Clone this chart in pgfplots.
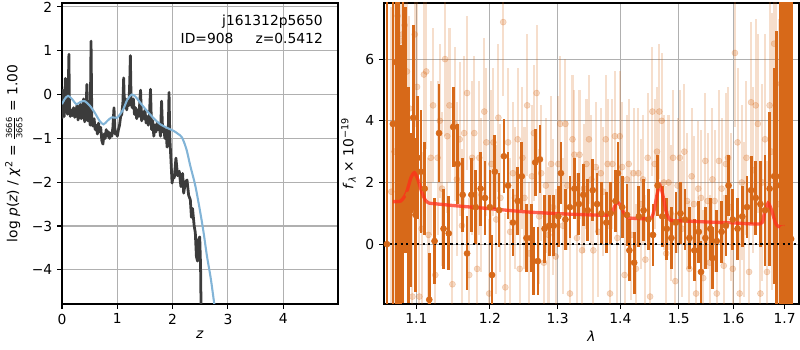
\documentclass[border=0pt]{standalone}
\usepackage{pgfplots}
\pgfplotsset{compat=1.18}
\usepackage{pgfplotstable}
\usepackage{fontspec}
\setmainfont{DejaVu Sans}
\definecolor{gridc}{RGB}{176,176,176}
\definecolor{darkor}{RGB}{215,105,25}
\definecolor{pzblack}{RGB}{60,60,60}
\definecolor{pzblue}{RGB}{130,180,215}
\definecolor{modred}{RGB}{255,45,25}

% dark points: wavelength, flux, error
\pgfplotstableread{
x y e
1.0625 0.0 12
1.0700 3.9 10
1.0740 5.9 10
1.0770 2.5 8
1.0800 0.45 6
1.0830 3.1 5
1.0860 3.7 4
1.0900 1.6 3.5
1.0930 1.1 2.5
1.0960 4.1 3
1.0990 0.95 2.5
1.1020 2.8 2
1.1060 2.35 2
1.1110 1.8 1.5
1.1170 -1.8 1.5
1.1240 0.1 1.4
1.1300 3.6 1.6
1.1360 0.5 1.3
1.1430 0.35 1.2
1.1490 3.8 1.3
1.1550 2.6 1.3
1.1620 1.6 1.2
1.1680 -0.3 1.2
1.1740 1.6 1.2
1.1800 1.2 1.2
1.1870 1.8 1.2
1.1930 1.5 1.2
1.2000 1.2 1.2
1.2030 -1.0 1.3
1.2070 2.35 1.2
1.2130 1.1 1.2
1.2200 2.85 1.2
1.2260 1.9 1.1
1.2330 0.7 1.1
1.2400 1.4 1.1
1.2460 2.2 1.1
1.2530 0.2 1.1
1.2600 0.2 1.1
1.2630 -0.55 1.1
1.2660 2.65 1.1
1.2700 -0.55 1.1
1.2730 2.75 1.1
1.2800 0.5 1.1
1.2870 0.6 1.0
1.2940 0.6 1.0
1.3010 0.9 1.0
1.3050 2.3 1.0
1.3120 0.8 1.0
1.3190 1.2 1.0
1.3260 1.8 1.0
1.3330 1.3 1.0
1.3400 1.6 1.0
1.3470 1.1 1.0
1.3550 1.75 1.0
1.3620 1.3 1.0
1.3690 1.0 1.0
1.3770 0.7 1.0
1.3840 1.0 1.0
1.3920 1.4 1.0
1.3960 2.3 1.0
1.4030 1.2 1.0
1.4110 0.95 1.0
1.4150 -0.2 1.0
1.4230 -0.6 1.0
1.4310 0.9 1.0
1.4390 1.1 1.0
1.4470 0.8 1.0
1.4550 0.3 1.0
1.4630 1.9 1.0
1.4710 0.9 1.0
1.4790 0.5 1.0
1.4870 0.2 1.0
1.4950 0.7 1.0
1.5030 1.0 1.0
1.5110 0.8 1.0
1.5190 0.2 1.0
1.5280 -0.2 1.0
1.5360 0.4 1.0
1.5400 -0.9 1.0
1.5480 0.2 1.0
1.5570 0.5 1.0
1.5610 -0.45 1.0
1.5690 0.1 1.0
1.5780 0.4 1.0
1.5860 0.6 1.0
1.5910 1.9 1.0
1.5990 0.8 1.0
1.6080 0.5 1.0
1.6170 0.9 1.0
1.6260 1.2 1.0
1.6340 1.75 1.1
1.6430 1.5 1.2
1.6520 1.3 1.4
1.6610 1.1 1.8
1.6700 1.8 2.5
1.6790 2.2 3.5
1.6840 1.9 5
1.6920 2.2 7
1.6970 0.5 9
1.7020 1.9 12
1.7080 6.9 12
1.7130 0.17 12
}\darkdata

\pgfplotstableread{
x y e
1.068 1.7 6
1.072 3.0 5
1.076 7.4 4
1.079 6.6 4
1.082 6.8 4
1.085 7.1 4
1.088 5.6 3
1.091 4.4 3
1.095 -1.7 3
1.098 6.8 3
1.101 5.1 3
1.104 -1.7 2.5
1.107 0.5 2.5
1.110 5.5 2.5
1.113 5.6 2.5
1.116 0.3 2.5
1.119 2.8 2.5
1.122 4.5 2.5
1.125 -1.0 2.5
1.128 2.8 2.5
1.131 4.0 2.5
1.134 1.8 2.5
1.138 6.0 2.5
1.141 3.5 2.5
1.144 4.5 2.5
1.148 -1.3 2.5
1.151 3.9 2.5
1.154 2.1 2.5
1.158 3.4 2.5
1.161 0.6 2.5
1.164 3.6 2.5
1.168 4.9 2.5
1.171 -1.0 2.5
1.175 2.8 2.5
1.178 3.6 2.5
1.182 -0.8 2.5
1.185 2.8 2.5
1.188 1.6 2.5
1.192 4.3 2.4
1.195 3.3 2.4
1.199 -1.6 2.4
1.202 2.6 2.4
1.205 3.3 2.4
1.209 0.8 2.4
1.212 4.1 2.4
1.215 1.5 2.4
1.219 7.2 2.4
1.222 -1.4 2.4
1.226 3.3 2.4
1.229 0.4 2.4
1.233 2.3 2.3
1.236 1.5 2.3
1.240 3.4 2.3
1.243 -0.8 2.3
1.247 2.8 2.3
1.250 1.5 2.3
1.254 4.5 2.3
1.257 -0.3 2.3
1.261 2.2 2.3
1.264 3.6 2.2
1.268 4.9 2.2
1.272 0.9 2.2
1.275 2.3 2.2
1.279 -0.6 2.2
1.282 1.9 2.2
1.286 0.3 2.2
1.290 2.6 2.2
1.293 1.2 2.2
1.297 -0.4 2.2
1.301 2.6 2.2
1.304 3.9 2.2
1.308 0.6 2.2
1.312 3.9 2.1
1.315 1.9 2.1
1.319 -1.6 2.1
1.323 3.4 2.1
1.326 2.9 2.1
1.330 0.2 2.1
1.334 2.9 2.1
1.338 -0.2 2.1
1.341 1.8 2.1
1.345 2.6 2.1
1.349 3.4 2.1
1.353 2.1 2.1
1.356 -0.2 2.1
1.360 2.5 2.1
1.364 0.4 2.1
1.368 2.3 2.1
1.372 1.7 2.1
1.376 3.4 2.1
1.379 2.6 2.1
1.383 -1.6 2.1
1.387 2.6 2.1
1.391 3.5 2.1
1.395 0.2 2.1
1.399 3.5 2.1
1.403 2.5 2.1
1.407 -1.0 2.1
1.411 2.1 2.1
1.414 2.6 2.1
1.418 0.3 2.1
1.422 2.3 2.1
1.426 -0.8 2.1
1.430 2.3 2.1
1.434 1.3 2.1
1.438 2.1 2.1
1.442 -0.5 2.1
1.446 2.8 2.1
1.450 -1.7 2.1
1.454 4.3 2.1
1.458 2.6 2.1
1.462 3.0 2.1
1.466 4.3 2.2
1.470 4.0 2.2
1.474 2.0 2.2
1.478 -0.3 2.2
1.482 2.0 2.2
1.486 1.0 2.2
1.490 2.8 2.2
1.494 -1.2 2.2
1.498 1.9 2.2
1.502 2.8 2.2
1.506 0.5 2.2
1.510 3.0 2.2
1.515 1.4 2.2
1.519 -0.8 2.2
1.523 2.2 2.2
1.527 1.3 2.2
1.531 -1.6 2.2
1.535 1.8 2.2
1.540 1.5 2.2
1.544 -1.1 2.2
1.548 2.7 2.2
1.552 1.4 2.2
1.556 -0.6 2.2
1.561 2.1 2.3
1.565 1.4 2.3
1.569 -1.6 2.3
1.573 2.7 2.3
1.578 1.8 2.3
1.582 -0.7 2.3
1.586 2.6 2.3
1.590 2.8 2.3
1.595 1.2 2.4
1.599 -0.8 2.4
1.603 6.2 2.4
1.608 3.3 2.4
1.612 -1.6 2.5
1.616 2.0 2.5
1.621 0.8 2.5
1.625 2.8 2.5
1.630 -0.9 2.6
1.634 4.6 2.6
1.638 2.4 2.7
1.643 4.5 2.8
1.647 3.9 2.9
1.652 -1.6 3.0
1.656 2.0 3.2
1.661 3.4 3.4
1.665 -0.9 3.6
1.670 4.5 4.0
1.674 3.0 4.5
1.679 6.5 5.0
1.683 5.2 6.0
1.688 1.3 6.0
}\lightdata

\pgfplotstableread{
x y
1.070 1.38
1.080 1.40
1.087 1.65
1.093 2.15
1.0975 2.32
1.102 2.1
1.107 1.7
1.112 1.42
1.117 1.33
1.125 1.31
1.15 1.25
1.2 1.15
1.25 1.05
1.3 0.99
1.35 0.95
1.382 0.95
1.389 1.15
1.3946 1.38
1.400 1.25
1.407 0.98
1.415 0.85
1.45 0.84
1.457 1.1
1.462 1.6
1.467 1.92
1.472 1.6
1.478 1.05
1.485 0.78
1.50 0.76
1.55 0.72
1.60 0.69
1.652 0.66
1.659 0.95
1.667 1.33
1.674 1.1
1.682 0.68
1.688 0.57
1.70 0.57
}\modeldata

\begin{document}
\begin{tikzpicture}
\useasboundingbox (0,0) rectangle (8in,3.5in);
\pgfplotsset{
  mpl/.style={
    scale only axis,
    axis line style={black, line width=0.8pt},
    grid=major,
    major grid style={gridc, line width=0.8pt},
    tick align=outside,
    major tick length=3.5pt,
    every tick/.style={black, line width=0.8pt},
    xtick pos=bottom, ytick pos=left,
    minor tick num=0,
    tick label style={font=\fontsize{10}{12}\selectfont},
    label style={font=\fontsize{10}{12}\selectfont},
    /pgf/number format/assume math mode=true,
  }
}
\begin{axis}[mpl,
  at={(0.62in,0.46in)}, anchor=south west,
  width=2.76in, height=3.01in,
  xmin=0, xmax=4.99, ymin=-4.78, ymax=2.09,
  xtick={0,1,2,3,4}, xticklabels={0,1,2,3,4},
  ytick={-4,-3,-2,-1,0,1,2}, yticklabels={−4,−3,−2,−1,0,1,2},
  xlabel={\textit{z}},
  ylabel={log \textit{p}(\textit{z}) / \textit{χ}\textsuperscript{2} = $\frac{\mbox{\fontsize{6}{6}\selectfont 3666}}{\mbox{\fontsize{6}{6}\selectfont 3665}}$ = 1.00},
  xlabel style={yshift=2pt},
]
\addplot[pzblack, line width=2.0pt, line join=round] coordinates {
(0.00,-0.55)(0.01,0.10)(0.02,-0.45)(0.03,-0.30)(0.04,-0.50)(0.05,-0.20)(0.06,0.37)(0.07,-0.40)(0.08,0.35)(0.09,-0.30)(0.10,-0.45)(0.11,-0.10)(0.125,0.92)(0.135,-0.30)(0.15,-0.50)(0.17,-0.35)(0.19,-0.48)(0.21,-0.30)(0.23,-0.52)(0.25,-0.42)(0.27,-0.25)(0.29,-0.58)(0.31,-0.40)(0.33,-0.22)(0.35,-0.55)(0.37,-0.45)(0.39,-0.10)(0.41,-0.62)(0.43,-0.50)(0.45,0.23)(0.47,-0.60)(0.49,-0.45)(0.51,-0.70)(0.525,1.22)(0.54,-0.65)(0.56,-0.72)(0.58,-0.55)(0.60,-0.80)(0.62,-0.70)(0.64,-0.90)(0.66,-0.65)(0.68,-0.85)(0.70,-0.75)(0.72,-1.05)(0.74,-1.13)(0.76,-0.90)(0.78,-1.00)(0.80,-0.80)(0.82,-0.95)(0.84,-0.85)(0.86,-1.00)(0.88,-0.88)(0.90,-0.95)(0.92,-0.75)(0.94,-0.30)(0.96,-0.90)(0.98,-0.85)(1.00,-0.95)(1.02,-0.80)(1.04,-0.70)(1.06,-0.50)(1.08,-0.45)(1.10,-0.20)(1.115,0.38)(1.13,-0.30)(1.15,-0.10)(1.17,-0.35)(1.19,-0.15)(1.21,-0.25)(1.225,0.30)(1.236,0.89)(1.25,-0.20)(1.27,-0.30)(1.29,-0.10)(1.31,-0.45)(1.33,-0.30)(1.35,-0.55)(1.37,-0.35)(1.39,-0.50)(1.42,0.10)(1.44,-0.60)(1.46,-0.40)(1.48,-0.55)(1.50,-0.35)(1.52,-0.65)(1.54,-0.50)(1.56,-0.70)(1.58,-0.50)(1.60,0.12)(1.62,-0.80)(1.64,-0.60)(1.66,-0.95)(1.68,-0.70)(1.70,-0.85)(1.72,-0.65)(1.74,-0.80)(1.76,-0.70)(1.78,-0.95)(1.80,-0.15)(1.82,-0.85)(1.84,-0.75)(1.86,-1.00)(1.88,-0.80)(1.90,-1.20)(1.92,-0.90)(1.935,0.05)(1.95,-1.00)(1.97,-1.50)(1.99,-2.02)(2.01,-1.85)(2.03,-1.90)(2.06,-1.45)(2.09,-1.85)(2.12,-1.75)(2.15,-2.10)(2.18,-1.80)(2.20,-2.25)(2.23,-2.00)(2.26,-1.95)(2.29,-2.30)(2.32,-2.40)(2.34,-2.80)(2.36,-2.60)(2.39,-3.00)(2.41,-3.15)(2.43,-3.70)(2.45,-3.80)(2.47,-3.30)(2.49,-3.25)(2.505,-3.90)(2.52,-5.5)
};
\addplot[pzblue, line width=1.5pt, smooth] coordinates {
(0,-0.22)(0.05,-0.1)(0.11,-0.03)(0.18,-0.1)(0.26,-0.22)(0.33,-0.17)(0.41,-0.15)(0.5,-0.25)(0.59,-0.41)(0.68,-0.6)(0.75,-0.68)(0.82,-0.6)(0.9,-0.52)(0.99,-0.53)(1.05,-0.45)(1.11,-0.33)(1.18,-0.12)(1.26,0)(1.33,-0.05)(1.41,-0.18)(1.5,-0.32)(1.59,-0.45)(1.68,-0.57)(1.78,-0.68)(1.9,-0.76)(2.02,-0.83)(2.1,-0.9)(2.17,-0.98)(2.25,-1.25)(2.32,-1.63)(2.41,-2.08)(2.5,-2.69)(2.56,-3.15)(2.62,-3.68)(2.69,-4.2)(2.75,-4.75)(2.8,-5.2)
};
\node[anchor=north east, align=right, font=\fontsize{10}{12.5}\selectfont, inner sep=0pt] at (rel axis cs:0.946,0.96) {j161312p5650\\ID=908\hspace{1.6em}z=0.5412};
\end{axis}

% right panel: wavelength axis is logarithmic; x is plotted as ln(lambda)
\begin{axis}[mpl,
  at={(3.84in,0.46in)}, anchor=south west,
  width=4.15in, height=3.01in,
  xmin=0.05714, xmax=0.54754, ymin=-1.94, ymax=7.82,
  xtick={0.09531,0.18232,0.26236,0.33647,0.40547,0.47000,0.53063},
  xticklabels={1.1,1.2,1.3,1.4,1.5,1.6,1.7},
  ytick={0,2,4,6}, yticklabels={0,2,4,6},
  xlabel={\textit{λ}},
  ylabel={\textit{f}\textsubscript{\textit{λ}} × 10\textsuperscript{−19}},
  xlabel style={yshift=2pt},
]
% light (transparent) points with their error bars
\addplot[only marks, mark=*, mark size=2.2pt, color=darkor,
  mark options={draw opacity=0.25, fill opacity=0.25},
  error bars/.cd, y dir=both, y explicit, error mark=none,
  error bar style={line width=1.5pt, color=darkor, draw opacity=0.22}]
  table[x expr=ln(\thisrow{x}), y=y, y error=e] {\lightdata};
% dark points with their error bars
\addplot[only marks, mark=*, mark size=2.2pt, color=darkor,
  error bars/.cd, y dir=both, y explicit, error mark=none,
  error bar style={line width=2.0pt, color=darkor, draw opacity=1}]
  table[x expr=ln(\thisrow{x}), y=y, y error=e] {\darkdata};
\addplot[modred, draw opacity=0.75, line width=2.4pt, smooth, tension=0.4]
  table[x expr=ln(\thisrow{x}), y=y] {\modeldata};
\addplot[black, line width=1.6pt, dash pattern=on 1.6pt off 2.4pt] coordinates {(0.05714,0)(0.54754,0)};
\node[anchor=north east, font=\fontsize{5.5}{6}\selectfont, inner sep=0pt] at (rel axis cs:0.955,-0.105) {Fri Apr 24 20:14:30 2020};
\end{axis}
\end{tikzpicture}
\end{document}
